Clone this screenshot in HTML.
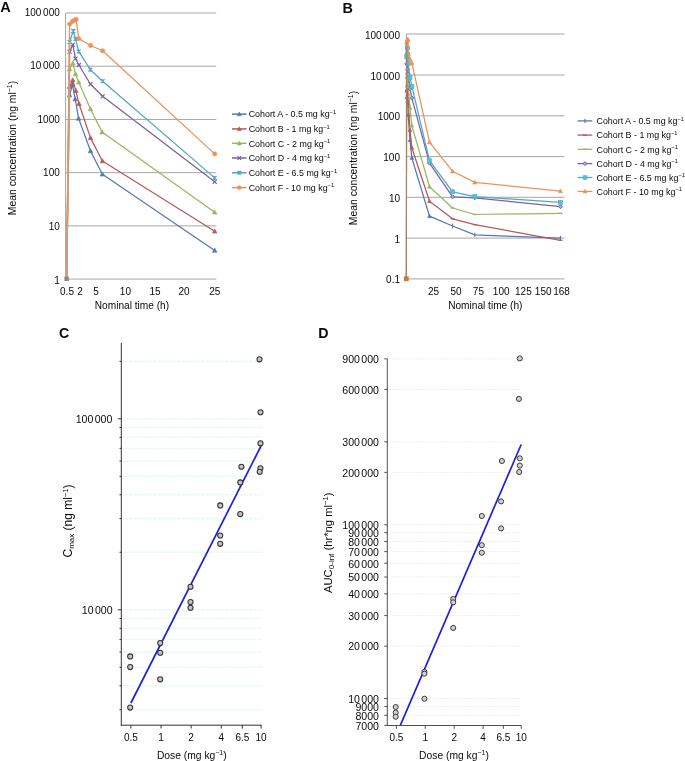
<!DOCTYPE html>
<html><head><meta charset="utf-8"><style>
html,body{margin:0;padding:0;background:#fff;}
svg{display:block;filter:blur(0.35px);}
text{font-family:"Liberation Sans",sans-serif;fill:#0a0a0a;}
</style></head><body>
<svg width="685" height="761" viewBox="0 0 685 761">
<rect width="685" height="761" fill="#fff"/>
<line x1="65.6" y1="279.1" x2="216.3" y2="279.1" stroke="#a6a6a6" stroke-width="1"/>
<text x="59.80" y="283.55" font-size="10" text-anchor="end" font-weight="normal" word-spacing="-1.1">1</text>
<line x1="65.6" y1="225.88" x2="216.3" y2="225.88" stroke="#a6a6a6" stroke-width="1"/>
<text x="59.80" y="229.99" font-size="10" text-anchor="end" font-weight="normal" word-spacing="-1.1">10</text>
<line x1="65.6" y1="172.66" x2="216.3" y2="172.66" stroke="#a6a6a6" stroke-width="1"/>
<text x="59.80" y="176.43" font-size="10" text-anchor="end" font-weight="normal" word-spacing="-1.1">100</text>
<line x1="65.6" y1="119.44" x2="216.3" y2="119.44" stroke="#a6a6a6" stroke-width="1"/>
<text x="59.80" y="122.87" font-size="10" text-anchor="end" font-weight="normal" word-spacing="-1.1">1000</text>
<line x1="65.6" y1="66.22" x2="216.3" y2="66.22" stroke="#a6a6a6" stroke-width="1"/>
<text x="59.80" y="69.31" font-size="10" text-anchor="end" font-weight="normal" word-spacing="-1.1">10 000</text>
<line x1="65.6" y1="13.0" x2="216.3" y2="13.0" stroke="#a6a6a6" stroke-width="1"/>
<text x="59.80" y="15.75" font-size="10" text-anchor="end" font-weight="normal" word-spacing="-1.1">100 000</text>
<line x1="65.6" y1="13.0" x2="65.6" y2="279.1" stroke="#a6a6a6" stroke-width="1"/>
<text x="67.00" y="294.60" font-size="10" text-anchor="middle" font-weight="normal" >0.5</text>
<text x="80.00" y="294.60" font-size="10" text-anchor="middle" font-weight="normal" >2</text>
<text x="96.00" y="294.60" font-size="10" text-anchor="middle" font-weight="normal" >5</text>
<text x="125.40" y="294.60" font-size="10" text-anchor="middle" font-weight="normal" >10</text>
<text x="155.00" y="294.60" font-size="10" text-anchor="middle" font-weight="normal" >15</text>
<text x="184.00" y="294.60" font-size="10" text-anchor="middle" font-weight="normal" >20</text>
<text x="214.70" y="294.60" font-size="10" text-anchor="middle" font-weight="normal" >25</text>
<text x="131.90" y="308.60" font-size="10.15" text-anchor="middle" font-weight="normal" >Nominal time (h)</text>
<text transform="translate(16.4,148) rotate(-90)" font-size="10.4" text-anchor="middle">Mean concentration (ng ml<tspan font-size="7" dy="-4">−1</tspan><tspan dy="4">)</tspan></text>
<text x="0.20" y="12.40" font-size="14.6" text-anchor="start" font-weight="bold" >A</text>
<polyline points="69.60,95.00 72.50,84.60 75.20,99.00 78.60,118.40 90.50,151.00 102.40,174.20 214.70,250.40" fill="none" stroke="#5479b0" stroke-width="1.25" stroke-linejoin="round"/>
<path d="M69.60,92.70 L71.90,96.84 L67.30,96.84Z" fill="#5479b0" stroke="#5479b0" stroke-width="0.6"/>
<path d="M72.50,82.30 L74.80,86.44 L70.20,86.44Z" fill="#5479b0" stroke="#5479b0" stroke-width="0.6"/>
<path d="M75.20,96.70 L77.50,100.84 L72.90,100.84Z" fill="#5479b0" stroke="#5479b0" stroke-width="0.6"/>
<path d="M78.60,116.10 L80.90,120.24 L76.30,120.24Z" fill="#5479b0" stroke="#5479b0" stroke-width="0.6"/>
<path d="M90.50,148.70 L92.80,152.84 L88.20,152.84Z" fill="#5479b0" stroke="#5479b0" stroke-width="0.6"/>
<path d="M102.40,171.90 L104.70,176.04 L100.10,176.04Z" fill="#5479b0" stroke="#5479b0" stroke-width="0.6"/>
<path d="M214.70,248.10 L217.00,252.24 L212.40,252.24Z" fill="#5479b0" stroke="#5479b0" stroke-width="0.6"/>
<polyline points="69.40,86.60 72.70,80.00 75.80,90.60 79.00,103.70 90.50,137.90 102.40,161.00 214.70,231.20" fill="none" stroke="#b55a58" stroke-width="1.25" stroke-linejoin="round"/>
<path d="M69.40,84.30 L71.70,88.44 L67.10,88.44Z" fill="#b55a58" stroke="#b55a58" stroke-width="0.6"/>
<path d="M72.70,77.70 L75.00,81.84 L70.40,81.84Z" fill="#b55a58" stroke="#b55a58" stroke-width="0.6"/>
<path d="M75.80,88.30 L78.10,92.44 L73.50,92.44Z" fill="#b55a58" stroke="#b55a58" stroke-width="0.6"/>
<path d="M79.00,101.40 L81.30,105.54 L76.70,105.54Z" fill="#b55a58" stroke="#b55a58" stroke-width="0.6"/>
<path d="M90.50,135.60 L92.80,139.74 L88.20,139.74Z" fill="#b55a58" stroke="#b55a58" stroke-width="0.6"/>
<path d="M102.40,158.70 L104.70,162.84 L100.10,162.84Z" fill="#b55a58" stroke="#b55a58" stroke-width="0.6"/>
<path d="M214.70,228.90 L217.00,233.04 L212.40,233.04Z" fill="#b55a58" stroke="#b55a58" stroke-width="0.6"/>
<polyline points="69.60,69.00 72.80,63.10 75.50,74.00 78.70,82.20 90.50,109.00 102.10,132.10 214.70,212.20" fill="none" stroke="#98b760" stroke-width="1.25" stroke-linejoin="round"/>
<path d="M69.60,66.70 L71.90,70.84 L67.30,70.84Z" fill="#98b760" stroke="#98b760" stroke-width="0.6"/>
<path d="M72.80,60.80 L75.10,64.94 L70.50,64.94Z" fill="#98b760" stroke="#98b760" stroke-width="0.6"/>
<path d="M75.50,71.70 L77.80,75.84 L73.20,75.84Z" fill="#98b760" stroke="#98b760" stroke-width="0.6"/>
<path d="M78.70,79.90 L81.00,84.04 L76.40,84.04Z" fill="#98b760" stroke="#98b760" stroke-width="0.6"/>
<path d="M90.50,106.70 L92.80,110.84 L88.20,110.84Z" fill="#98b760" stroke="#98b760" stroke-width="0.6"/>
<path d="M102.10,129.80 L104.40,133.94 L99.80,133.94Z" fill="#98b760" stroke="#98b760" stroke-width="0.6"/>
<path d="M214.70,209.90 L217.00,214.04 L212.40,214.04Z" fill="#98b760" stroke="#98b760" stroke-width="0.6"/>
<polyline points="69.60,51.70 72.80,44.70 75.50,58.70 78.90,65.00 90.50,84.20 102.60,96.30 214.70,181.80" fill="none" stroke="#7a62a0" stroke-width="1.25" stroke-linejoin="round"/>
<path d="M67.60,49.70L71.60,53.70M71.60,49.70L67.60,53.70" stroke="#7a62a0" stroke-width="1.2"/>
<path d="M70.80,42.70L74.80,46.70M74.80,42.70L70.80,46.70" stroke="#7a62a0" stroke-width="1.2"/>
<path d="M73.50,56.70L77.50,60.70M77.50,56.70L73.50,60.70" stroke="#7a62a0" stroke-width="1.2"/>
<path d="M76.90,63.00L80.90,67.00M80.90,63.00L76.90,67.00" stroke="#7a62a0" stroke-width="1.2"/>
<path d="M88.50,82.20L92.50,86.20M92.50,82.20L88.50,86.20" stroke="#7a62a0" stroke-width="1.2"/>
<path d="M100.60,94.30L104.60,98.30M104.60,94.30L100.60,98.30" stroke="#7a62a0" stroke-width="1.2"/>
<path d="M212.70,179.80L216.70,183.80M216.70,179.80L212.70,183.80" stroke="#7a62a0" stroke-width="1.2"/>
<polyline points="69.60,42.00 73.30,31.00 75.50,38.90 78.70,51.40 90.40,69.70 102.60,81.20 214.70,177.90" fill="none" stroke="#4fa8c0" stroke-width="1.25" stroke-linejoin="round"/>
<path d="M67.60,40.00L71.60,44.00M71.60,40.00L67.60,44.00M69.60,40.00L69.60,44.00" stroke="#4fa8c0" stroke-width="1.2"/>
<path d="M71.30,29.00L75.30,33.00M75.30,29.00L71.30,33.00M73.30,29.00L73.30,33.00" stroke="#4fa8c0" stroke-width="1.2"/>
<path d="M73.50,36.90L77.50,40.90M77.50,36.90L73.50,40.90M75.50,36.90L75.50,40.90" stroke="#4fa8c0" stroke-width="1.2"/>
<path d="M76.70,49.40L80.70,53.40M80.70,49.40L76.70,53.40M78.70,49.40L78.70,53.40" stroke="#4fa8c0" stroke-width="1.2"/>
<path d="M88.40,67.70L92.40,71.70M92.40,67.70L88.40,71.70M90.40,67.70L90.40,71.70" stroke="#4fa8c0" stroke-width="1.2"/>
<path d="M100.60,79.20L104.60,83.20M104.60,79.20L100.60,83.20M102.60,79.20L102.60,83.20" stroke="#4fa8c0" stroke-width="1.2"/>
<path d="M212.70,175.90L216.70,179.90M216.70,175.90L212.70,179.90M214.70,175.90L214.70,179.90" stroke="#4fa8c0" stroke-width="1.2"/>
<polyline points="69.60,24.10 72.50,21.50 74.50,20.20 76.10,19.50 78.70,38.60 90.60,45.50 102.60,50.80 214.70,153.90" fill="none" stroke="#e8935a" stroke-width="1.25" stroke-linejoin="round"/>
<circle cx="69.60" cy="24.10" r="2.15" fill="#e8935a" stroke="#e8935a" stroke-width="0.6"/>
<circle cx="72.50" cy="21.50" r="2.15" fill="#e8935a" stroke="#e8935a" stroke-width="0.6"/>
<circle cx="74.50" cy="20.20" r="2.15" fill="#e8935a" stroke="#e8935a" stroke-width="0.6"/>
<circle cx="76.10" cy="19.50" r="2.15" fill="#e8935a" stroke="#e8935a" stroke-width="0.6"/>
<circle cx="78.70" cy="38.60" r="2.15" fill="#e8935a" stroke="#e8935a" stroke-width="0.6"/>
<circle cx="90.60" cy="45.50" r="2.15" fill="#e8935a" stroke="#e8935a" stroke-width="0.6"/>
<circle cx="102.60" cy="50.80" r="2.15" fill="#e8935a" stroke="#e8935a" stroke-width="0.6"/>
<circle cx="214.70" cy="153.90" r="2.15" fill="#e8935a" stroke="#e8935a" stroke-width="0.6"/>
<line x1="66.6" y1="278.7" x2="69.6" y2="95" stroke="#cf9c78" stroke-width="1.4"/>
<line x1="66.6" y1="278.7" x2="69.4" y2="86.6" stroke="#cf9c78" stroke-width="1.4"/>
<line x1="66.6" y1="278.7" x2="69.6" y2="69" stroke="#cf9c78" stroke-width="1.4"/>
<line x1="66.6" y1="278.7" x2="69.6" y2="51.7" stroke="#cf9c78" stroke-width="1.4"/>
<line x1="66.6" y1="278.7" x2="69.6" y2="42" stroke="#cf9c78" stroke-width="1.4"/>
<line x1="66.6" y1="278.7" x2="69.6" y2="24.1" stroke="#cf9c78" stroke-width="1.4"/>
<rect x="64.4" y="276.6" width="4.4" height="4.4" fill="#9c8272"/>
<line x1="232" y1="114.1" x2="246.5" y2="114.1" stroke="#5479b0" stroke-width="1.5"/>
<path d="M239.30,112.03 L241.37,115.76 L237.23,115.76Z" fill="#5479b0" stroke="#5479b0" stroke-width="0.6"/>
<text x="248.7" y="117.40" font-size="8.9">Cohort A - 0.5 mg kg<tspan font-size="5.8" dy="-3.6">−1</tspan></text>
<line x1="232" y1="128.9" x2="246.5" y2="128.9" stroke="#b55a58" stroke-width="1.5"/>
<path d="M239.30,126.83 L241.37,130.56 L237.23,130.56Z" fill="#b55a58" stroke="#b55a58" stroke-width="0.6"/>
<text x="248.7" y="132.20" font-size="8.9">Cohort B - 1 mg kg<tspan font-size="5.8" dy="-3.6">−1</tspan></text>
<line x1="232" y1="143.3" x2="246.5" y2="143.3" stroke="#98b760" stroke-width="1.5"/>
<path d="M239.30,141.23 L241.37,144.96 L237.23,144.96Z" fill="#98b760" stroke="#98b760" stroke-width="0.6"/>
<text x="248.7" y="146.60" font-size="8.9">Cohort C - 2 mg kg<tspan font-size="5.8" dy="-3.6">−1</tspan></text>
<line x1="232" y1="158.0" x2="246.5" y2="158.0" stroke="#7a62a0" stroke-width="1.5"/>
<path d="M237.50,156.20L241.10,159.80M241.10,156.20L237.50,159.80" stroke="#7a62a0" stroke-width="1.2"/>
<text x="248.7" y="161.30" font-size="8.9">Cohort D - 4 mg kg<tspan font-size="5.8" dy="-3.6">−1</tspan></text>
<line x1="232" y1="172.8" x2="246.5" y2="172.8" stroke="#4fa8c0" stroke-width="1.5"/>
<path d="M237.50,171.00L241.10,174.60M241.10,171.00L237.50,174.60M239.30,171.00L239.30,174.60" stroke="#4fa8c0" stroke-width="1.2"/>
<text x="248.7" y="176.10" font-size="8.9">Cohort E - 6.5 mg kg<tspan font-size="5.8" dy="-3.6">−1</tspan></text>
<line x1="232" y1="187.6" x2="246.5" y2="187.6" stroke="#e8935a" stroke-width="1.5"/>
<circle cx="239.30" cy="187.60" r="1.94" fill="#e8935a" stroke="#e8935a" stroke-width="0.6"/>
<text x="248.7" y="190.90" font-size="8.9">Cohort F - 10 mg kg<tspan font-size="5.8" dy="-3.6">−1</tspan></text>
<line x1="406.3" y1="34.0" x2="564.5" y2="34.0" stroke="#a6a6a6" stroke-width="1"/>
<text x="400.00" y="38.50" font-size="10" text-anchor="end" font-weight="normal" word-spacing="-1.1">100 000</text>
<line x1="406.3" y1="75.0" x2="564.5" y2="75.0" stroke="#a6a6a6" stroke-width="1"/>
<text x="400.00" y="79.50" font-size="10" text-anchor="end" font-weight="normal" word-spacing="-1.1">10 000</text>
<line x1="406.3" y1="115.8" x2="564.5" y2="115.8" stroke="#a6a6a6" stroke-width="1"/>
<text x="400.00" y="120.30" font-size="10" text-anchor="end" font-weight="normal" word-spacing="-1.1">1000</text>
<line x1="406.3" y1="156.6" x2="564.5" y2="156.6" stroke="#a6a6a6" stroke-width="1"/>
<text x="400.00" y="161.10" font-size="10" text-anchor="end" font-weight="normal" word-spacing="-1.1">100</text>
<line x1="406.3" y1="197.3" x2="564.5" y2="197.3" stroke="#a6a6a6" stroke-width="1"/>
<text x="400.00" y="201.80" font-size="10" text-anchor="end" font-weight="normal" word-spacing="-1.1">10</text>
<line x1="406.3" y1="238.1" x2="564.5" y2="238.1" stroke="#a6a6a6" stroke-width="1"/>
<text x="400.00" y="242.60" font-size="10" text-anchor="end" font-weight="normal" word-spacing="-1.1">1</text>
<line x1="406.3" y1="278.9" x2="564.5" y2="278.9" stroke="#a6a6a6" stroke-width="1"/>
<text x="400.00" y="283.40" font-size="10" text-anchor="end" font-weight="normal" word-spacing="-1.1">0.1</text>
<line x1="406.3" y1="34.0" x2="406.3" y2="278.9" stroke="#a6a6a6" stroke-width="1"/>
<text x="433.60" y="294.60" font-size="10" text-anchor="middle" font-weight="normal" >25</text>
<text x="456.00" y="294.60" font-size="10" text-anchor="middle" font-weight="normal" >50</text>
<text x="478.40" y="294.60" font-size="10" text-anchor="middle" font-weight="normal" >75</text>
<text x="501.20" y="294.60" font-size="10" text-anchor="middle" font-weight="normal" >100</text>
<text x="523.40" y="294.60" font-size="10" text-anchor="middle" font-weight="normal" >125</text>
<text x="543.20" y="294.60" font-size="10" text-anchor="middle" font-weight="normal" >150</text>
<text x="561.50" y="294.60" font-size="10" text-anchor="middle" font-weight="normal" >168</text>
<text x="485.30" y="308.60" font-size="10.15" text-anchor="middle" font-weight="normal" >Nominal time (h)</text>
<text transform="translate(357.4,158) rotate(-90)" font-size="10.4" text-anchor="middle">Mean concentration (ng ml<tspan font-size="7" dy="-4">−1</tspan><tspan dy="4">)</tspan></text>
<text x="342.40" y="12.50" font-size="14.4" text-anchor="start" font-weight="bold" >B</text>
<polyline points="406.76,97.06 407.21,89.07 407.63,100.13 408.16,115.02 410.00,140.05 411.85,157.87 429.50,216.20 452.60,226.00 474.80,234.90 560.50,238.10" fill="none" stroke="#5479b0" stroke-width="1.25" stroke-linejoin="round"/>
<path d="M406.76,95.16 L408.66,98.58 L404.86,98.58Z" fill="#5479b0" stroke="#5479b0" stroke-width="0.6"/>
<path d="M407.21,87.17 L409.11,90.59 L405.31,90.59Z" fill="#5479b0" stroke="#5479b0" stroke-width="0.6"/>
<path d="M407.63,98.23 L409.53,101.65 L405.73,101.65Z" fill="#5479b0" stroke="#5479b0" stroke-width="0.6"/>
<path d="M408.16,113.12 L410.06,116.54 L406.26,116.54Z" fill="#5479b0" stroke="#5479b0" stroke-width="0.6"/>
<path d="M410.00,138.15 L411.90,141.57 L408.10,141.57Z" fill="#5479b0" stroke="#5479b0" stroke-width="0.6"/>
<path d="M411.85,155.97 L413.75,159.39 L409.95,159.39Z" fill="#5479b0" stroke="#5479b0" stroke-width="0.6"/>
<path d="M429.50,214.30 L431.40,217.72 L427.60,217.72Z" fill="#5479b0" stroke="#5479b0" stroke-width="0.6"/>
<path d="M452.60,223.80L452.60,228.20" stroke="#5479b0" stroke-width="1.1"/>
<path d="M474.80,232.70L474.80,237.10" stroke="#5479b0" stroke-width="1.1"/>
<path d="M560.50,235.90L560.50,240.30" stroke="#5479b0" stroke-width="1.1"/>
<polyline points="406.73,90.61 407.25,85.54 407.73,93.68 408.22,103.74 410.00,129.99 411.85,147.73 429.50,201.20 452.60,218.80 474.80,224.60 560.50,240.30" fill="none" stroke="#b55a58" stroke-width="1.25" stroke-linejoin="round"/>
<path d="M406.73,88.71 L408.63,92.13 L404.83,92.13Z" fill="#b55a58" stroke="#b55a58" stroke-width="0.6"/>
<path d="M407.25,83.64 L409.15,87.06 L405.35,87.06Z" fill="#b55a58" stroke="#b55a58" stroke-width="0.6"/>
<path d="M407.73,91.78 L409.63,95.20 L405.83,95.20Z" fill="#b55a58" stroke="#b55a58" stroke-width="0.6"/>
<path d="M408.22,101.84 L410.12,105.26 L406.32,105.26Z" fill="#b55a58" stroke="#b55a58" stroke-width="0.6"/>
<path d="M410.00,128.09 L411.90,131.51 L408.10,131.51Z" fill="#b55a58" stroke="#b55a58" stroke-width="0.6"/>
<path d="M411.85,145.83 L413.75,149.25 L409.95,149.25Z" fill="#b55a58" stroke="#b55a58" stroke-width="0.6"/>
<path d="M429.50,199.30 L431.40,202.72 L427.60,202.72Z" fill="#b55a58" stroke="#b55a58" stroke-width="0.6"/>
<path d="M450.60,218.80L454.60,218.80" stroke="#b55a58" stroke-width="1.3"/>
<path d="M472.80,224.60L476.80,224.60" stroke="#b55a58" stroke-width="1.3"/>
<path d="M558.50,240.30L562.50,240.30" stroke="#b55a58" stroke-width="1.3"/>
<polyline points="406.76,77.09 407.26,72.56 407.68,80.93 408.18,87.23 410.00,107.80 411.80,125.54 429.50,186.70 452.60,208.00 474.80,214.50 560.50,213.30" fill="none" stroke="#98b760" stroke-width="1.25" stroke-linejoin="round"/>
<path d="M406.76,75.19 L408.66,78.61 L404.86,78.61Z" fill="#98b760" stroke="#98b760" stroke-width="0.6"/>
<path d="M407.26,70.66 L409.16,74.08 L405.36,74.08Z" fill="#98b760" stroke="#98b760" stroke-width="0.6"/>
<path d="M407.68,79.03 L409.58,82.45 L405.78,82.45Z" fill="#98b760" stroke="#98b760" stroke-width="0.6"/>
<path d="M408.18,85.33 L410.08,88.75 L406.28,88.75Z" fill="#98b760" stroke="#98b760" stroke-width="0.6"/>
<path d="M410.00,105.90 L411.90,109.32 L408.10,109.32Z" fill="#98b760" stroke="#98b760" stroke-width="0.6"/>
<path d="M411.80,123.64 L413.70,127.06 L409.90,127.06Z" fill="#98b760" stroke="#98b760" stroke-width="0.6"/>
<path d="M429.50,184.80 L431.40,188.22 L427.60,188.22Z" fill="#98b760" stroke="#98b760" stroke-width="0.6"/>
<path d="M450.60,208.00L454.60,208.00" stroke="#98b760" stroke-width="1.3"/>
<path d="M472.80,214.50L476.80,214.50" stroke="#98b760" stroke-width="1.3"/>
<path d="M558.50,213.30L562.50,213.30" stroke="#98b760" stroke-width="1.3"/>
<polyline points="406.76,63.81 407.26,58.44 407.68,69.18 408.21,74.02 410.00,88.76 411.88,98.05 429.50,163.10 452.60,196.90 474.80,197.80 560.50,206.70" fill="none" stroke="#7a62a0" stroke-width="1.25" stroke-linejoin="round"/>
<path d="M406.76,61.81L408.76,63.81L406.76,65.81L404.76,63.81Z" fill="#b9a8d0" stroke="#7a62a0" stroke-width="1"/>
<path d="M407.26,56.44L409.26,58.44L407.26,60.44L405.26,58.44Z" fill="#b9a8d0" stroke="#7a62a0" stroke-width="1"/>
<path d="M407.68,67.18L409.68,69.18L407.68,71.18L405.68,69.18Z" fill="#b9a8d0" stroke="#7a62a0" stroke-width="1"/>
<path d="M408.21,72.02L410.21,74.02L408.21,76.02L406.21,74.02Z" fill="#b9a8d0" stroke="#7a62a0" stroke-width="1"/>
<path d="M410.00,86.76L412.00,88.76L410.00,90.76L408.00,88.76Z" fill="#b9a8d0" stroke="#7a62a0" stroke-width="1"/>
<path d="M411.88,96.05L413.88,98.05L411.88,100.05L409.88,98.05Z" fill="#b9a8d0" stroke="#7a62a0" stroke-width="1"/>
<path d="M429.50,161.10L431.50,163.10L429.50,165.10L427.50,163.10Z" fill="#b9a8d0" stroke="#7a62a0" stroke-width="1"/>
<path d="M452.60,194.90L454.60,196.90L452.60,198.90L450.60,196.90Z" fill="#b9a8d0" stroke="#7a62a0" stroke-width="1"/>
<path d="M474.80,195.80L476.80,197.80L474.80,199.80L472.80,197.80Z" fill="#b9a8d0" stroke="#7a62a0" stroke-width="1"/>
<path d="M560.50,204.70L562.50,206.70L560.50,208.70L558.50,206.70Z" fill="#b9a8d0" stroke="#7a62a0" stroke-width="1"/>
<polyline points="406.76,56.36 407.34,47.92 407.68,53.98 408.18,63.58 409.99,77.63 411.88,86.46 429.50,160.70 452.60,191.80 474.80,196.60 560.50,202.30" fill="none" stroke="#4fa8c0" stroke-width="1.25" stroke-linejoin="round"/>
<rect x="404.76" y="54.36" width="4.00" height="4.00" fill="#4bc3e0" stroke="#4fa8c0" stroke-width="0.6"/>
<rect x="405.34" y="45.92" width="4.00" height="4.00" fill="#4bc3e0" stroke="#4fa8c0" stroke-width="0.6"/>
<rect x="405.68" y="51.98" width="4.00" height="4.00" fill="#4bc3e0" stroke="#4fa8c0" stroke-width="0.6"/>
<rect x="406.18" y="61.58" width="4.00" height="4.00" fill="#4bc3e0" stroke="#4fa8c0" stroke-width="0.6"/>
<rect x="407.99" y="75.63" width="4.00" height="4.00" fill="#4bc3e0" stroke="#4fa8c0" stroke-width="0.6"/>
<rect x="409.88" y="84.46" width="4.00" height="4.00" fill="#4bc3e0" stroke="#4fa8c0" stroke-width="0.6"/>
<rect x="427.50" y="158.70" width="4.00" height="4.00" fill="#4bc3e0" stroke="#4fa8c0" stroke-width="0.6"/>
<rect x="450.60" y="189.80" width="4.00" height="4.00" fill="#4bc3e0" stroke="#4fa8c0" stroke-width="0.6"/>
<rect x="472.80" y="194.60" width="4.00" height="4.00" fill="#4bc3e0" stroke="#4fa8c0" stroke-width="0.6"/>
<rect x="558.50" y="200.30" width="4.00" height="4.00" fill="#4bc3e0" stroke="#4fa8c0" stroke-width="0.6"/>
<polyline points="406.76,42.62 407.21,40.62 407.52,39.62 407.77,39.09 408.18,53.75 410.02,59.05 411.88,63.12 429.50,142.20 452.60,171.30 474.80,182.40 560.50,191.10" fill="none" stroke="#e8935a" stroke-width="1.25" stroke-linejoin="round"/>
<path d="M406.76,40.52 L408.86,44.30 L404.66,44.30Z" fill="#e8935a" stroke="#e8935a" stroke-width="0.6"/>
<path d="M407.21,38.52 L409.31,42.30 L405.11,42.30Z" fill="#e8935a" stroke="#e8935a" stroke-width="0.6"/>
<path d="M407.52,37.52 L409.62,41.30 L405.42,41.30Z" fill="#e8935a" stroke="#e8935a" stroke-width="0.6"/>
<path d="M407.77,36.99 L409.87,40.77 L405.67,40.77Z" fill="#e8935a" stroke="#e8935a" stroke-width="0.6"/>
<path d="M408.18,51.65 L410.28,55.43 L406.08,55.43Z" fill="#e8935a" stroke="#e8935a" stroke-width="0.6"/>
<path d="M410.02,56.95 L412.12,60.73 L407.92,60.73Z" fill="#e8935a" stroke="#e8935a" stroke-width="0.6"/>
<path d="M411.88,61.02 L413.98,64.80 L409.78,64.80Z" fill="#e8935a" stroke="#e8935a" stroke-width="0.6"/>
<path d="M429.50,140.10 L431.60,143.88 L427.40,143.88Z" fill="#e8935a" stroke="#e8935a" stroke-width="0.6"/>
<path d="M452.60,169.20 L454.70,172.98 L450.50,172.98Z" fill="#e8935a" stroke="#e8935a" stroke-width="0.6"/>
<path d="M474.80,180.30 L476.90,184.08 L472.70,184.08Z" fill="#e8935a" stroke="#e8935a" stroke-width="0.6"/>
<path d="M560.50,189.00 L562.60,192.78 L558.40,192.78Z" fill="#e8935a" stroke="#e8935a" stroke-width="0.6"/>
<line x1="406.3" y1="278.9" x2="406.76" y2="97.06" stroke="#b87a50" stroke-width="1.05"/>
<line x1="406.3" y1="278.9" x2="406.76" y2="42.62" stroke="#b87a50" stroke-width="1.05"/>
<rect x="403.9" y="276.4" width="4.8" height="4.8" fill="#c07a48"/>
<line x1="577.6" y1="120.9" x2="592.3" y2="120.9" stroke="#5479b0" stroke-width="1.3"/>
<path d="M585.00,118.70L585.00,123.10" stroke="#5479b0" stroke-width="1.1"/>
<text x="596.5" y="124.20" font-size="8.9">Cohort A - 0.5 mg kg<tspan font-size="5.8" dy="-3.6">−1</tspan></text>
<line x1="577.6" y1="135.1" x2="592.3" y2="135.1" stroke="#b55a58" stroke-width="1.3"/>
<path d="M583.00,135.10L587.00,135.10" stroke="#b55a58" stroke-width="1.3"/>
<text x="596.5" y="138.40" font-size="8.9">Cohort B - 1 mg kg<tspan font-size="5.8" dy="-3.6">−1</tspan></text>
<line x1="577.6" y1="149.3" x2="592.3" y2="149.3" stroke="#98b760" stroke-width="1.3"/>
<path d="M583.00,149.30L587.00,149.30" stroke="#98b760" stroke-width="1.3"/>
<text x="596.5" y="152.60" font-size="8.9">Cohort C - 2 mg kg<tspan font-size="5.8" dy="-3.6">−1</tspan></text>
<line x1="577.6" y1="163.6" x2="592.3" y2="163.6" stroke="#7a62a0" stroke-width="1.3"/>
<path d="M585.00,161.60L587.00,163.60L585.00,165.60L583.00,163.60Z" fill="#b9a8d0" stroke="#7a62a0" stroke-width="1"/>
<text x="596.5" y="166.90" font-size="8.9">Cohort D - 4 mg kg<tspan font-size="5.8" dy="-3.6">−1</tspan></text>
<line x1="577.6" y1="177.5" x2="592.3" y2="177.5" stroke="#4fa8c0" stroke-width="1.3"/>
<rect x="583.20" y="175.70" width="3.60" height="3.60" fill="#4bc3e0" stroke="#4fa8c0" stroke-width="0.6"/>
<text x="596.5" y="180.80" font-size="8.9">Cohort E - 6.5 mg kg<tspan font-size="5.8" dy="-3.6">−1</tspan></text>
<line x1="577.6" y1="191.4" x2="592.3" y2="191.4" stroke="#e8935a" stroke-width="1.3"/>
<path d="M585.00,189.40 L587.00,193.00 L583.00,193.00Z" fill="#e8935a" stroke="#e8935a" stroke-width="0.6"/>
<text x="596.5" y="194.70" font-size="8.9">Cohort F - 10 mg kg<tspan font-size="5.8" dy="-3.6">−1</tspan></text>
<line x1="124" y1="709.67" x2="262" y2="709.67" stroke="#e9f7f7" stroke-width="1.5" stroke-dasharray="4,0.8"/>
<line x1="124" y1="685.81" x2="262" y2="685.81" stroke="#e9f7f7" stroke-width="1.5" stroke-dasharray="4,0.8"/>
<line x1="124" y1="667.30" x2="262" y2="667.30" stroke="#e9f7f7" stroke-width="1.5" stroke-dasharray="4,0.8"/>
<line x1="124" y1="652.17" x2="262" y2="652.17" stroke="#e9f7f7" stroke-width="1.5" stroke-dasharray="4,0.8"/>
<line x1="124" y1="639.39" x2="262" y2="639.39" stroke="#e9f7f7" stroke-width="1.5" stroke-dasharray="4,0.8"/>
<line x1="124" y1="628.31" x2="262" y2="628.31" stroke="#e9f7f7" stroke-width="1.5" stroke-dasharray="4,0.8"/>
<line x1="124" y1="618.54" x2="262" y2="618.54" stroke="#e9f7f7" stroke-width="1.5" stroke-dasharray="4,0.8"/>
<line x1="124" y1="609.80" x2="262" y2="609.80" stroke="#e9f7f7" stroke-width="1.5" stroke-dasharray="4,0.8"/>
<line x1="124" y1="552.30" x2="262" y2="552.30" stroke="#e9f7f7" stroke-width="1.5" stroke-dasharray="4,0.8"/>
<line x1="124" y1="518.67" x2="262" y2="518.67" stroke="#e9f7f7" stroke-width="1.5" stroke-dasharray="4,0.8"/>
<line x1="124" y1="494.81" x2="262" y2="494.81" stroke="#e9f7f7" stroke-width="1.5" stroke-dasharray="4,0.8"/>
<line x1="124" y1="476.30" x2="262" y2="476.30" stroke="#e9f7f7" stroke-width="1.5" stroke-dasharray="4,0.8"/>
<line x1="124" y1="461.17" x2="262" y2="461.17" stroke="#e9f7f7" stroke-width="1.5" stroke-dasharray="4,0.8"/>
<line x1="124" y1="448.39" x2="262" y2="448.39" stroke="#e9f7f7" stroke-width="1.5" stroke-dasharray="4,0.8"/>
<line x1="124" y1="437.31" x2="262" y2="437.31" stroke="#e9f7f7" stroke-width="1.5" stroke-dasharray="4,0.8"/>
<line x1="124" y1="427.54" x2="262" y2="427.54" stroke="#e9f7f7" stroke-width="1.5" stroke-dasharray="4,0.8"/>
<line x1="124" y1="418.80" x2="262" y2="418.80" stroke="#e9f7f7" stroke-width="1.5" stroke-dasharray="4,0.8"/>
<line x1="124" y1="361.30" x2="262" y2="361.30" stroke="#e9f7f7" stroke-width="1.5" stroke-dasharray="4,0.8"/>
<line x1="121.3" y1="342.8" x2="121.3" y2="725.7" stroke="#333" stroke-width="1"/>
<line x1="120.8" y1="725.2" x2="261.6" y2="725.2" stroke="#333" stroke-width="1"/>
<line x1="119.5" y1="709.67" x2="121.3" y2="709.67" stroke="#333" stroke-width="1"/>
<line x1="119.5" y1="685.81" x2="121.3" y2="685.81" stroke="#333" stroke-width="1"/>
<line x1="119.5" y1="667.30" x2="121.3" y2="667.30" stroke="#333" stroke-width="1"/>
<line x1="119.5" y1="652.17" x2="121.3" y2="652.17" stroke="#333" stroke-width="1"/>
<line x1="119.5" y1="639.39" x2="121.3" y2="639.39" stroke="#333" stroke-width="1"/>
<line x1="119.5" y1="628.31" x2="121.3" y2="628.31" stroke="#333" stroke-width="1"/>
<line x1="119.5" y1="618.54" x2="121.3" y2="618.54" stroke="#333" stroke-width="1"/>
<line x1="117.8" y1="609.80" x2="121.3" y2="609.80" stroke="#333" stroke-width="1"/>
<line x1="119.5" y1="552.30" x2="121.3" y2="552.30" stroke="#333" stroke-width="1"/>
<line x1="119.5" y1="518.67" x2="121.3" y2="518.67" stroke="#333" stroke-width="1"/>
<line x1="119.5" y1="494.81" x2="121.3" y2="494.81" stroke="#333" stroke-width="1"/>
<line x1="119.5" y1="476.30" x2="121.3" y2="476.30" stroke="#333" stroke-width="1"/>
<line x1="119.5" y1="461.17" x2="121.3" y2="461.17" stroke="#333" stroke-width="1"/>
<line x1="119.5" y1="448.39" x2="121.3" y2="448.39" stroke="#333" stroke-width="1"/>
<line x1="119.5" y1="437.31" x2="121.3" y2="437.31" stroke="#333" stroke-width="1"/>
<line x1="119.5" y1="427.54" x2="121.3" y2="427.54" stroke="#333" stroke-width="1"/>
<line x1="117.8" y1="418.80" x2="121.3" y2="418.80" stroke="#333" stroke-width="1"/>
<line x1="119.5" y1="361.30" x2="121.3" y2="361.30" stroke="#333" stroke-width="1"/>
<text transform="translate(112.4,422.90) scale(1.06,1)" font-size="10" text-anchor="end" word-spacing="-1.5">100 000</text>
<text transform="translate(112.6,613.90) scale(1.06,1)" font-size="10" text-anchor="end" word-spacing="-1.5">10 000</text>
<line x1="130.87" y1="725.2" x2="130.87" y2="728.5" stroke="#333" stroke-width="1"/>
<text x="130.87" y="741.00" font-size="10" text-anchor="middle" font-weight="normal" >0.5</text>
<line x1="161.00" y1="725.2" x2="161.00" y2="728.5" stroke="#333" stroke-width="1"/>
<text x="161.00" y="741.00" font-size="10" text-anchor="middle" font-weight="normal" >1</text>
<line x1="191.13" y1="725.2" x2="191.13" y2="728.5" stroke="#333" stroke-width="1"/>
<text x="191.13" y="741.00" font-size="10" text-anchor="middle" font-weight="normal" >2</text>
<line x1="221.27" y1="725.2" x2="221.27" y2="728.5" stroke="#333" stroke-width="1"/>
<text x="221.27" y="741.00" font-size="10" text-anchor="middle" font-weight="normal" >4</text>
<line x1="242.37" y1="725.2" x2="242.37" y2="728.5" stroke="#333" stroke-width="1"/>
<text x="242.37" y="741.00" font-size="10" text-anchor="middle" font-weight="normal" >6.5</text>
<line x1="261.10" y1="725.2" x2="261.10" y2="728.5" stroke="#333" stroke-width="1"/>
<text x="261.10" y="741.00" font-size="10" text-anchor="middle" font-weight="normal" >10</text>
<text x="191.8" y="758.6" font-size="10.3" text-anchor="middle">Dose (mg kg<tspan font-size="7" dy="-4">−1</tspan><tspan dy="4">)</tspan></text>
<text transform="translate(71.8,521) rotate(-90)" font-size="12" text-anchor="middle">C<tspan font-size="8" dy="2.5">max</tspan><tspan dy="-2.5"> (ng ml</tspan><tspan font-size="7.5" dy="-4">−1</tspan><tspan dy="4">)</tspan></text>
<text x="58.90" y="337.60" font-size="14.2" text-anchor="start" font-weight="bold" >C</text>
<line x1="130.9" y1="703" x2="261" y2="446" stroke="#2020d4" stroke-width="1.7"/>
<circle cx="259.5" cy="359.3" r="2.55" fill="#c4c4c4" stroke="#333" stroke-width="1.05"/>
<circle cx="260.5" cy="412.2" r="2.55" fill="#c4c4c4" stroke="#333" stroke-width="1.05"/>
<circle cx="260.5" cy="443.3" r="2.55" fill="#c4c4c4" stroke="#333" stroke-width="1.05"/>
<circle cx="260.4" cy="468.3" r="2.55" fill="#c4c4c4" stroke="#333" stroke-width="1.05"/>
<circle cx="259.7" cy="471.7" r="2.55" fill="#c4c4c4" stroke="#333" stroke-width="1.05"/>
<circle cx="241.4" cy="466.7" r="2.55" fill="#c4c4c4" stroke="#333" stroke-width="1.05"/>
<circle cx="240.3" cy="482.4" r="2.55" fill="#c4c4c4" stroke="#333" stroke-width="1.05"/>
<circle cx="240.3" cy="514.1" r="2.55" fill="#c4c4c4" stroke="#333" stroke-width="1.05"/>
<circle cx="220.2" cy="505.4" r="2.55" fill="#c4c4c4" stroke="#333" stroke-width="1.05"/>
<circle cx="220.2" cy="535.5" r="2.55" fill="#c4c4c4" stroke="#333" stroke-width="1.05"/>
<circle cx="220.2" cy="543.8" r="2.55" fill="#c4c4c4" stroke="#333" stroke-width="1.05"/>
<circle cx="190.5" cy="586.7" r="2.55" fill="#c4c4c4" stroke="#333" stroke-width="1.05"/>
<circle cx="190.5" cy="602.1" r="2.55" fill="#c4c4c4" stroke="#333" stroke-width="1.05"/>
<circle cx="190.5" cy="607.7" r="2.55" fill="#c4c4c4" stroke="#333" stroke-width="1.05"/>
<circle cx="160.2" cy="643.1" r="2.55" fill="#c4c4c4" stroke="#333" stroke-width="1.05"/>
<circle cx="160.2" cy="652.7" r="2.55" fill="#c4c4c4" stroke="#333" stroke-width="1.05"/>
<circle cx="160.2" cy="679.3" r="2.55" fill="#c4c4c4" stroke="#333" stroke-width="1.05"/>
<circle cx="130.2" cy="656.4" r="2.55" fill="#c4c4c4" stroke="#333" stroke-width="1.05"/>
<circle cx="130.2" cy="667.1" r="2.55" fill="#c4c4c4" stroke="#333" stroke-width="1.05"/>
<circle cx="130.2" cy="707.6" r="2.55" fill="#c4c4c4" stroke="#333" stroke-width="1.05"/>
<line x1="392" y1="358.85" x2="521" y2="358.85" stroke="#eeeeee" stroke-width="1" stroke-dasharray="2,1"/>
<line x1="392" y1="389.46" x2="521" y2="389.46" stroke="#eeeeee" stroke-width="1" stroke-dasharray="2,1"/>
<line x1="392" y1="441.78" x2="521" y2="441.78" stroke="#eeeeee" stroke-width="1" stroke-dasharray="2,1"/>
<line x1="392" y1="472.38" x2="521" y2="472.38" stroke="#eeeeee" stroke-width="1" stroke-dasharray="2,1"/>
<line x1="392" y1="524.70" x2="521" y2="524.70" stroke="#eeeeee" stroke-width="1" stroke-dasharray="2,1"/>
<line x1="392" y1="532.65" x2="521" y2="532.65" stroke="#eeeeee" stroke-width="1" stroke-dasharray="2,1"/>
<line x1="392" y1="541.54" x2="521" y2="541.54" stroke="#eeeeee" stroke-width="1" stroke-dasharray="2,1"/>
<line x1="392" y1="551.62" x2="521" y2="551.62" stroke="#eeeeee" stroke-width="1" stroke-dasharray="2,1"/>
<line x1="392" y1="563.26" x2="521" y2="563.26" stroke="#eeeeee" stroke-width="1" stroke-dasharray="2,1"/>
<line x1="392" y1="577.02" x2="521" y2="577.02" stroke="#eeeeee" stroke-width="1" stroke-dasharray="2,1"/>
<line x1="392" y1="593.86" x2="521" y2="593.86" stroke="#eeeeee" stroke-width="1" stroke-dasharray="2,1"/>
<line x1="392" y1="615.58" x2="521" y2="615.58" stroke="#eeeeee" stroke-width="1" stroke-dasharray="2,1"/>
<line x1="392" y1="646.18" x2="521" y2="646.18" stroke="#eeeeee" stroke-width="1" stroke-dasharray="2,1"/>
<line x1="392" y1="698.50" x2="521" y2="698.50" stroke="#eeeeee" stroke-width="1" stroke-dasharray="2,1"/>
<line x1="392" y1="706.45" x2="521" y2="706.45" stroke="#eeeeee" stroke-width="1" stroke-dasharray="2,1"/>
<line x1="392" y1="715.34" x2="521" y2="715.34" stroke="#eeeeee" stroke-width="1" stroke-dasharray="2,1"/>
<line x1="387.3" y1="358.85" x2="387.3" y2="725.7" stroke="#505050" stroke-width="1"/>
<line x1="386.8" y1="725.5" x2="521.5" y2="725.5" stroke="#505050" stroke-width="1"/>
<line x1="384.3" y1="358.85" x2="387.3" y2="358.85" stroke="#505050" stroke-width="1"/>
<text transform="translate(379.0,363.15) scale(1.06,1)" font-size="10" text-anchor="end" word-spacing="-1.5">900 000</text>
<line x1="384.3" y1="389.46" x2="387.3" y2="389.46" stroke="#505050" stroke-width="1"/>
<text transform="translate(379.0,393.76) scale(1.06,1)" font-size="10" text-anchor="end" word-spacing="-1.5">600 000</text>
<line x1="384.3" y1="441.78" x2="387.3" y2="441.78" stroke="#505050" stroke-width="1"/>
<text transform="translate(379.0,446.08) scale(1.06,1)" font-size="10" text-anchor="end" word-spacing="-1.5">300 000</text>
<line x1="384.3" y1="472.38" x2="387.3" y2="472.38" stroke="#505050" stroke-width="1"/>
<text transform="translate(379.0,476.68) scale(1.06,1)" font-size="10" text-anchor="end" word-spacing="-1.5">200 000</text>
<line x1="384.3" y1="524.70" x2="387.3" y2="524.70" stroke="#505050" stroke-width="1"/>
<text transform="translate(379.0,529.00) scale(1.06,1)" font-size="10" text-anchor="end" word-spacing="-1.5">100 000</text>
<line x1="384.3" y1="532.65" x2="387.3" y2="532.65" stroke="#505050" stroke-width="1"/>
<text transform="translate(379.0,536.95) scale(1.06,1)" font-size="10" text-anchor="end" word-spacing="-1.5">90 000</text>
<line x1="384.3" y1="541.54" x2="387.3" y2="541.54" stroke="#505050" stroke-width="1"/>
<text transform="translate(379.0,545.84) scale(1.06,1)" font-size="10" text-anchor="end" word-spacing="-1.5">80 000</text>
<line x1="384.3" y1="551.62" x2="387.3" y2="551.62" stroke="#505050" stroke-width="1"/>
<text transform="translate(379.0,555.92) scale(1.06,1)" font-size="10" text-anchor="end" word-spacing="-1.5">70 000</text>
<line x1="384.3" y1="563.26" x2="387.3" y2="563.26" stroke="#505050" stroke-width="1"/>
<text transform="translate(379.0,567.56) scale(1.06,1)" font-size="10" text-anchor="end" word-spacing="-1.5">60 000</text>
<line x1="384.3" y1="577.02" x2="387.3" y2="577.02" stroke="#505050" stroke-width="1"/>
<text transform="translate(379.0,581.32) scale(1.06,1)" font-size="10" text-anchor="end" word-spacing="-1.5">50 000</text>
<line x1="384.3" y1="593.86" x2="387.3" y2="593.86" stroke="#505050" stroke-width="1"/>
<text transform="translate(379.0,598.16) scale(1.06,1)" font-size="10" text-anchor="end" word-spacing="-1.5">40 000</text>
<line x1="384.3" y1="615.58" x2="387.3" y2="615.58" stroke="#505050" stroke-width="1"/>
<text transform="translate(379.0,619.88) scale(1.06,1)" font-size="10" text-anchor="end" word-spacing="-1.5">30 000</text>
<line x1="384.3" y1="646.18" x2="387.3" y2="646.18" stroke="#505050" stroke-width="1"/>
<text transform="translate(379.0,650.48) scale(1.06,1)" font-size="10" text-anchor="end" word-spacing="-1.5">20 000</text>
<line x1="384.3" y1="698.50" x2="387.3" y2="698.50" stroke="#505050" stroke-width="1"/>
<text transform="translate(379.0,702.80) scale(1.06,1)" font-size="10" text-anchor="end" word-spacing="-1.5">10 000</text>
<line x1="384.3" y1="706.45" x2="387.3" y2="706.45" stroke="#505050" stroke-width="1"/>
<text transform="translate(379.0,710.75) scale(1.06,1)" font-size="10" text-anchor="end" word-spacing="-1.5">9000</text>
<line x1="384.3" y1="715.34" x2="387.3" y2="715.34" stroke="#505050" stroke-width="1"/>
<text transform="translate(379.0,719.64) scale(1.06,1)" font-size="10" text-anchor="end" word-spacing="-1.5">8000</text>
<line x1="384.3" y1="725.42" x2="387.3" y2="725.42" stroke="#505050" stroke-width="1"/>
<text transform="translate(379.0,729.72) scale(1.06,1)" font-size="10" text-anchor="end" word-spacing="-1.5">7000</text>
<line x1="396.40" y1="725.5" x2="396.40" y2="728.8" stroke="#505050" stroke-width="1"/>
<text x="396.40" y="740.80" font-size="10" text-anchor="middle" font-weight="normal" >0.5</text>
<line x1="425.30" y1="725.5" x2="425.30" y2="728.8" stroke="#505050" stroke-width="1"/>
<text x="425.30" y="740.80" font-size="10" text-anchor="middle" font-weight="normal" >1</text>
<line x1="454.20" y1="725.5" x2="454.20" y2="728.8" stroke="#505050" stroke-width="1"/>
<text x="454.20" y="740.80" font-size="10" text-anchor="middle" font-weight="normal" >2</text>
<line x1="483.10" y1="725.5" x2="483.10" y2="728.8" stroke="#505050" stroke-width="1"/>
<text x="483.10" y="740.80" font-size="10" text-anchor="middle" font-weight="normal" >4</text>
<line x1="503.34" y1="725.5" x2="503.34" y2="728.8" stroke="#505050" stroke-width="1"/>
<text x="503.34" y="740.80" font-size="10" text-anchor="middle" font-weight="normal" >6.5</text>
<line x1="521.30" y1="725.5" x2="521.30" y2="728.8" stroke="#505050" stroke-width="1"/>
<text x="521.30" y="740.80" font-size="10" text-anchor="middle" font-weight="normal" >10</text>
<text x="454" y="758.6" font-size="10.3" text-anchor="middle">Dose (mg kg<tspan font-size="7" dy="-4">−1</tspan><tspan dy="4">)</tspan></text>
<text transform="translate(331.6,542.8) rotate(-90)" font-size="11.25" text-anchor="middle">AUC<tspan font-size="8" dy="2.5">0-inf</tspan><tspan dy="-2.5"> (hr*ng ml</tspan><tspan font-size="7.5" dy="-4">−1</tspan><tspan dy="4">)</tspan></text>
<text x="318.30" y="337.50" font-size="14.2" text-anchor="start" font-weight="bold" >D</text>
<line x1="400.4" y1="725.2" x2="521.2" y2="444.5" stroke="#2020d4" stroke-width="1.7"/>
<circle cx="395.7" cy="707" r="2.55" fill="#cfcfcf" stroke="#3c3c3c" stroke-width="1"/>
<circle cx="395.7" cy="712.6" r="2.55" fill="#cfcfcf" stroke="#3c3c3c" stroke-width="1"/>
<circle cx="395.7" cy="716.7" r="2.55" fill="#cfcfcf" stroke="#3c3c3c" stroke-width="1"/>
<circle cx="424.4" cy="671.9" r="2.55" fill="#cfcfcf" stroke="#3c3c3c" stroke-width="1"/>
<circle cx="424.4" cy="673.7" r="2.55" fill="#cfcfcf" stroke="#3c3c3c" stroke-width="1"/>
<circle cx="424.4" cy="698.7" r="2.55" fill="#cfcfcf" stroke="#3c3c3c" stroke-width="1"/>
<circle cx="453.2" cy="599" r="2.55" fill="#cfcfcf" stroke="#3c3c3c" stroke-width="1"/>
<circle cx="453.2" cy="602.3" r="2.55" fill="#cfcfcf" stroke="#3c3c3c" stroke-width="1"/>
<circle cx="453.2" cy="627.9" r="2.55" fill="#cfcfcf" stroke="#3c3c3c" stroke-width="1"/>
<circle cx="481.8" cy="516" r="2.55" fill="#cfcfcf" stroke="#3c3c3c" stroke-width="1"/>
<circle cx="481.8" cy="545.2" r="2.55" fill="#cfcfcf" stroke="#3c3c3c" stroke-width="1"/>
<circle cx="481.8" cy="552.7" r="2.55" fill="#cfcfcf" stroke="#3c3c3c" stroke-width="1"/>
<circle cx="501.9" cy="461" r="2.55" fill="#cfcfcf" stroke="#3c3c3c" stroke-width="1"/>
<circle cx="501.1" cy="501.4" r="2.55" fill="#cfcfcf" stroke="#3c3c3c" stroke-width="1"/>
<circle cx="501.1" cy="528.4" r="2.55" fill="#cfcfcf" stroke="#3c3c3c" stroke-width="1"/>
<circle cx="519.8" cy="358.4" r="2.55" fill="#cfcfcf" stroke="#3c3c3c" stroke-width="1"/>
<circle cx="518.9" cy="398.9" r="2.55" fill="#cfcfcf" stroke="#3c3c3c" stroke-width="1"/>
<circle cx="519.8" cy="458.3" r="2.55" fill="#cfcfcf" stroke="#3c3c3c" stroke-width="1"/>
<circle cx="519.8" cy="465.6" r="2.55" fill="#cfcfcf" stroke="#3c3c3c" stroke-width="1"/>
<circle cx="519.2" cy="472" r="2.55" fill="#cfcfcf" stroke="#3c3c3c" stroke-width="1"/>
</svg>
</body></html>
